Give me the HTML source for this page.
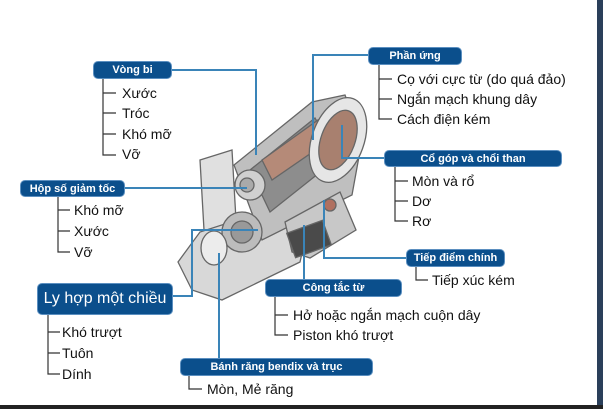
<!DOCTYPE html>
<html><head><meta charset="utf-8"><style>
body{margin:0;width:603px;height:409px;overflow:hidden;background:#fff;position:relative;font-family:"Liberation Sans",sans-serif;}
.b{position:absolute;background:#0b4f8c;color:#fff;border-radius:5px;font-weight:bold;font-size:11px;text-align:center;line-height:17px;border:1px solid #5b8fc0;box-sizing:border-box}
.t{position:absolute;font-size:14px;color:#111;line-height:16px;white-space:nowrap}
svg{position:absolute;left:0;top:0}
</style></head><body>
<svg width="603" height="409">
<g stroke="#666" stroke-width="1.3">
<polygon points="200,160 232,150 238,255 206,265" fill="#e0e0e0"/>
<polygon points="178,262 200,232 262,212 305,240 300,262 222,300 192,290" fill="#d8d8d8"/>
<polygon points="234,165 312,102 345,95 362,140 352,195 262,240" fill="#bfbfbf"/>
<polygon points="250,170 315,118 338,158 270,212" fill="#8d8d8d"/>
<polygon points="262,160 318,120 330,140 272,180" fill="#b58a78"/>
<ellipse cx="338" cy="140" rx="26" ry="44" fill="#e6e6e6" transform="rotate(20 338 140)"/>
<ellipse cx="338" cy="140" rx="17" ry="31" fill="#a8806f" transform="rotate(20 338 140)"/>
<polygon points="285,222 340,192 356,230 310,258 292,252" fill="#c8c8c8"/>
<rect x="290" y="226" width="38" height="26" fill="#4a4a4a" transform="rotate(-20 309 239)"/>
<circle cx="250" cy="185" r="15" fill="#d0d0d0"/>
<circle cx="247" cy="185" r="7" fill="#aaa"/>
<circle cx="242" cy="232" r="20" fill="#bcbcbc"/>
<circle cx="242" cy="232" r="11" fill="#999"/>
<ellipse cx="214" cy="248" rx="13" ry="17" fill="#ececec"/>
<circle cx="330" cy="205" r="6" fill="#b07060"/>
</g>
<g stroke="#3a84b8" stroke-width="2" fill="none">
<polyline points="172,70 256,70 256,155"/>
<polyline points="368,55 313,55 313,140"/>
<polyline points="384,158 342,158 342,125"/>
<polyline points="125,188 247,188"/>
<polyline points="406,258 324,258 324,200"/>
<polyline points="304,279 304,225"/>
<polyline points="173,296 192,296 192,230 258,230"/>
<polyline points="219,358 219,253"/>
</g>
<g stroke="#333" stroke-width="1.2" fill="none">
<path d="M103,78V155H116M103,93H116M103,113H116M103,134H116"/>
<path d="M379,64V119H392M379,79H392M379,99H392"/>
<path d="M395,166V221H408M395,181H408M395,201H408"/>
<path d="M58,196V252H70M58,210H70M58,231H70"/>
<path d="M416,266V280H428"/>
<path d="M275,296V335H288M275,315H288"/>
<path d="M48,315V374H60M48,332H60M48,353H60"/>
<path d="M189,375V389H202"/>
</g>
<rect x="597" y="0" width="6" height="409" fill="#2a3f5a"/>
<rect x="0" y="405" width="603" height="4" fill="#222"/>
</svg>
<div class="b" style="left:93px;top:61px;width:79px;height:18px">Vòng bi</div>
<div class="b" style="left:368px;top:47px;width:94px;height:18px">Phần ứng</div>
<div class="b" style="left:384px;top:150px;width:178px;height:17px">Cổ góp và chổi than</div>
<div class="b" style="left:20px;top:180px;width:105px;height:17px">Hộp số giảm tốc</div>
<div class="b" style="left:406px;top:249px;width:99px;height:18px">Tiếp điểm chính</div>
<div class="b" style="left:265px;top:279px;width:137px;height:18px">Công tắc từ</div>
<div class="b" style="left:37px;top:283px;width:136px;height:32px;font-weight:normal;font-size:16px;line-height:30px">Ly hợp một chiều</div>
<div class="b" style="left:180px;top:358px;width:193px;height:18px">Bánh răng bendix và trục</div>
<div class="t" style="left:122px;top:85px">Xước</div>
<div class="t" style="left:122px;top:105px">Tróc</div>
<div class="t" style="left:122px;top:126px">Khó mỡ</div>
<div class="t" style="left:122px;top:146px">Vỡ</div>
<div class="t" style="left:397px;top:71px">Cọ với cực từ (do quá đảo)</div>
<div class="t" style="left:397px;top:91px">Ngắn mạch khung dây</div>
<div class="t" style="left:397px;top:111px">Cách điện kém</div>
<div class="t" style="left:412px;top:173px">Mòn và rổ</div>
<div class="t" style="left:412px;top:193px">Dơ</div>
<div class="t" style="left:412px;top:213px">Rơ</div>
<div class="t" style="left:74px;top:202px">Khó mỡ</div>
<div class="t" style="left:74px;top:223px">Xước</div>
<div class="t" style="left:74px;top:244px">Vỡ</div>
<div class="t" style="left:432px;top:272px">Tiếp xúc kém</div>
<div class="t" style="left:293px;top:307px">Hở hoặc ngắn mạch cuộn dây</div>
<div class="t" style="left:293px;top:327px">Piston khó trượt</div>
<div class="t" style="left:62px;top:324px">Khó trượt</div>
<div class="t" style="left:62px;top:345px">Tuôn</div>
<div class="t" style="left:62px;top:366px">Dính</div>
<div class="t" style="left:207px;top:381px">Mòn, Mẻ răng</div>
</body></html>
